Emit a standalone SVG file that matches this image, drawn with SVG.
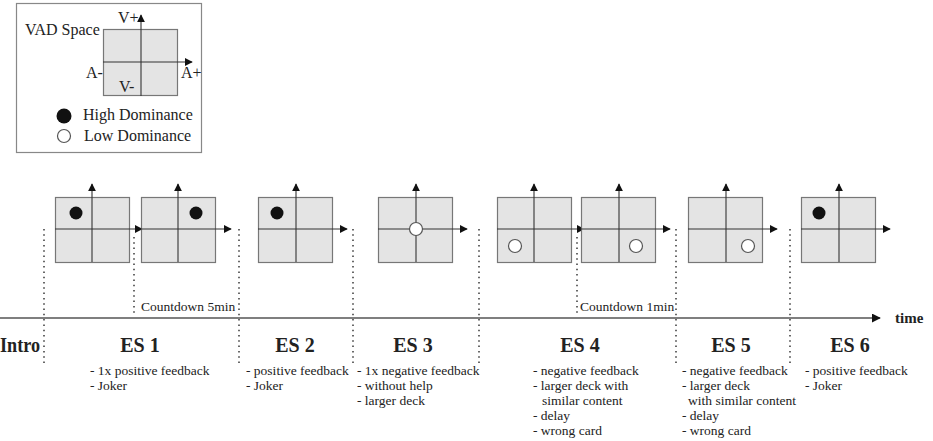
<svg xmlns="http://www.w3.org/2000/svg" width="933" height="441" viewBox="0 0 933 441" font-family="'Liberation Serif', 'DejaVu Serif', serif">
  <defs>
    <marker id="arr" viewBox="0 0 10 10" refX="9" refY="5" markerWidth="8" markerHeight="8" markerUnits="userSpaceOnUse" orient="auto">
      <path d="M0,0 L10,5 L0,10 z" fill="#111"/>
    </marker>
    <marker id="arrT" viewBox="0 0 10 10" refX="9" refY="5" markerWidth="9" markerHeight="9" markerUnits="userSpaceOnUse" orient="auto">
      <path d="M0,0 L10,5 L0,10 z" fill="#111"/>
    </marker>
  </defs>
  <style>
    text { font-family: 'Liberation Serif', 'DejaVu Serif', serif; fill: #222; }
    .lbl { font-size: 16px; }
    .small { font-size: 13.5px; }
    .es { font-size: 20px; font-weight: bold; }
    .sq { fill: #e4e4e4; stroke: #777; stroke-width: 1.2; }
    .axa { stroke: #333; stroke-width: 1.1; fill: none; marker-end: url(#arr); }
    .dot { fill: #111; }
    .hollow { fill: #fff; stroke: #555; stroke-width: 1.2; }
    .sep { stroke: #444; stroke-width: 1.6; stroke-dasharray: 1.5 3.8; fill: none; }
  </style>

  <rect width="933" height="441" fill="#fff"/>

  <!-- legend -->
  <g id="legend">
    <rect x="16.5" y="3.5" width="185" height="149" fill="#fff" stroke="#888" stroke-width="1.2"/>
    <text class="lbl" x="25" y="35">VAD Space</text>
    <rect class="sq" x="103.5" y="29.5" width="74" height="66"/>
    <line class="axa" x1="141" y1="96" x2="141" y2="15"/>
    <line class="axa" x1="103" y1="62" x2="192" y2="62"/>
    <text class="lbl" x="118" y="23">V+</text>
    <text class="lbl" x="86" y="78">A-</text>
    <text class="lbl" x="181" y="78">A+</text>
    <text class="lbl" x="119" y="92">V-</text>
    <circle class="dot" cx="64" cy="116" r="7.5"/>
    <text class="lbl" x="83" y="120">High Dominance</text>
    <circle class="hollow" cx="64" cy="136" r="6.5"/>
    <text class="lbl" x="84" y="141">Low Dominance</text>
  </g>

  <!-- VAD charts per episode -->
  <g id="chart-es1a">
    <rect class="sq" x="55.5" y="197.5" width="74" height="65"/>
    <line class="axa" x1="92" y1="262" x2="92" y2="184"/>
    <line class="axa" x1="55" y1="229" x2="142" y2="229"/>
    <circle class="dot" cx="76" cy="213" r="6.5"/>
  </g>
  <g id="chart-es1b">
    <rect class="sq" x="141.5" y="197.5" width="74" height="65"/>
    <line class="axa" x1="178" y1="262" x2="178" y2="184"/>
    <line class="axa" x1="141" y1="229" x2="231" y2="229"/>
    <circle class="dot" cx="196" cy="213" r="6.5"/>
  </g>
  <g id="chart-es2">
    <rect class="sq" x="258.5" y="197.5" width="74" height="65"/>
    <line class="axa" x1="296" y1="262" x2="296" y2="184"/>
    <line class="axa" x1="258" y1="229" x2="347" y2="229"/>
    <circle class="dot" cx="277" cy="213" r="6.5"/>
  </g>
  <g id="chart-es3">
    <rect class="sq" x="378.5" y="197.5" width="74" height="65"/>
    <line class="axa" x1="416" y1="262" x2="416" y2="184"/>
    <line class="axa" x1="378" y1="229" x2="467" y2="229"/>
    <circle class="hollow" cx="416" cy="229" r="6.5"/>
  </g>
  <g id="chart-es4a">
    <rect class="sq" x="497.5" y="197.5" width="74" height="65"/>
    <line class="axa" x1="534" y1="262" x2="534" y2="184"/>
    <line class="axa" x1="497" y1="229" x2="584" y2="229"/>
    <circle class="hollow" cx="515" cy="246" r="6.5"/>
  </g>
  <g id="chart-es4b">
    <rect class="sq" x="581.5" y="197.5" width="74" height="65"/>
    <line class="axa" x1="619" y1="262" x2="619" y2="184"/>
    <line class="axa" x1="581" y1="229" x2="670" y2="229"/>
    <circle class="hollow" cx="636" cy="246" r="6.5"/>
  </g>
  <g id="chart-es5">
    <rect class="sq" x="688.5" y="197.5" width="74" height="65"/>
    <line class="axa" x1="726" y1="262" x2="726" y2="184"/>
    <line class="axa" x1="688" y1="229" x2="777" y2="229"/>
    <circle class="hollow" cx="748" cy="246" r="6.5"/>
  </g>
  <g id="chart-es6">
    <rect class="sq" x="801.5" y="197.5" width="74" height="65"/>
    <line class="axa" x1="839" y1="262" x2="839" y2="184"/>
    <line class="axa" x1="801" y1="229" x2="890" y2="229"/>
    <circle class="dot" cx="819" cy="213" r="6.5"/>
  </g>

  <!-- timeline and episode separators -->
  <g id="connectors">
    <line x1="0" y1="318" x2="880" y2="318" stroke="#555" stroke-width="1.5" marker-end="url(#arrT)"/>
    <line class="sep" x1="44" y1="229" x2="44" y2="365"/>
    <line class="sep" x1="134" y1="237" x2="134" y2="316"/>
    <line class="sep" x1="239" y1="229" x2="239" y2="365"/>
    <line class="sep" x1="353" y1="229" x2="353" y2="365"/>
    <line class="sep" x1="479" y1="229" x2="479" y2="365"/>
    <line class="sep" x1="577" y1="237" x2="577" y2="316"/>
    <line class="sep" x1="676" y1="229" x2="676" y2="365"/>
    <line class="sep" x1="790" y1="229" x2="790" y2="365"/>
  </g>

  <g id="time-label">
    <text x="895" y="323" font-size="15" font-weight="bold">time</text>
  </g>
  <g id="countdowns">
    <text class="small" x="141" y="311">Countdown 5min</text>
    <text class="small" x="580" y="311">Countdown 1min</text>
  </g>

  <!-- episode titles and conditions -->
  <g id="intro"><text class="es" x="0" y="352" textLength="40" lengthAdjust="spacingAndGlyphs">Intro</text></g>
  <g id="es1">
    <text class="es" x="140" y="352" text-anchor="middle">ES 1</text>
    <text class="small" x="90" y="375">- 1x positive feedback</text>
    <text class="small" x="90" y="390">- Joker</text>
  </g>
  <g id="es2">
    <text class="es" x="295" y="352" text-anchor="middle">ES 2</text>
    <text class="small" x="246" y="375">- positive feedback</text>
    <text class="small" x="246" y="390">- Joker</text>
  </g>
  <g id="es3">
    <text class="es" x="413" y="352" text-anchor="middle">ES 3</text>
    <text class="small" x="357" y="375">- 1x negative feedback</text>
    <text class="small" x="357" y="390">- without help</text>
    <text class="small" x="357" y="405">- larger deck</text>
  </g>
  <g id="es4">
    <text class="es" x="580" y="352" text-anchor="middle">ES 4</text>
    <text class="small" x="533" y="375">- negative feedback</text>
    <text class="small" x="533" y="390">- larger deck with</text>
    <text class="small" x="542" y="405">similar content</text>
    <text class="small" x="533" y="420">- delay</text>
    <text class="small" x="533" y="435">- wrong card</text>
  </g>
  <g id="es5">
    <text class="es" x="731" y="352" text-anchor="middle">ES 5</text>
    <text class="small" x="682" y="375">- negative feedback</text>
    <text class="small" x="682" y="390">- larger deck</text>
    <text class="small" x="688" y="405">with similar content</text>
    <text class="small" x="682" y="420">- delay</text>
    <text class="small" x="682" y="435">- wrong card</text>
  </g>
  <g id="es6">
    <text class="es" x="850" y="352" text-anchor="middle">ES 6</text>
    <text class="small" x="805" y="375">- positive feedback</text>
    <text class="small" x="805" y="390">- Joker</text>
  </g>
</svg>
